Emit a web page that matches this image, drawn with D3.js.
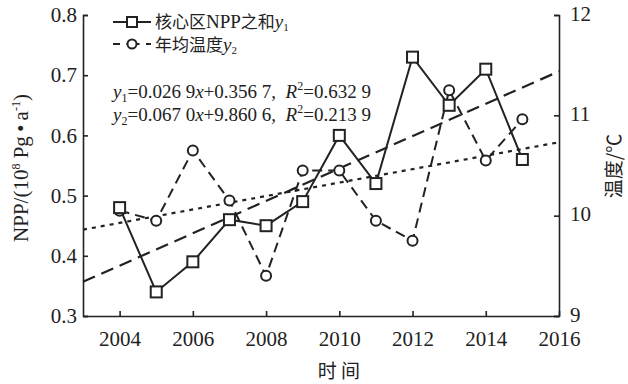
<!DOCTYPE html>
<html>
<head>
<meta charset="utf-8">
<script src="https://cdn.jsdelivr.net/npm/d3@7"></script>
<style>
  body { margin: 0; background: #fff; }
  svg { font-family: "Liberation Serif", "Times New Roman", "Noto Sans CJK SC", serif; }
</style>
</head>
<body>
<script>
// data
var years = [2004, 2005, 2006, 2007, 2008, 2009, 2010, 2011, 2012, 2013, 2014, 2015];
var npp = [0.48, 0.34, 0.39, 0.46, 0.45, 0.49, 0.60, 0.52, 0.73, 0.65, 0.71, 0.56];
var temp = [10.05, 9.95, 10.65, 10.15, 9.4, 10.45, 10.45, 9.95, 9.75, 11.25, 10.55, 10.96];
var xTicks = [2004, 2006, 2008, 2010, 2012, 2014, 2016];
var leftTicks = [0.3, 0.4, 0.5, 0.6, 0.7, 0.8];
var rightTicks = [9, 10, 11, 12];
// fitted trends, x = year - 2003
var fit1 = {k: 0.0269, b: 0.3567};
var fit2 = {k: 0.0670, b: 9.8606};

var W = 628, H = 384;
var m = {left: 83, right: 559, top: 15, bottom: 316};

var svg = d3.select("body").append("svg")
    .attr("width", W)
    .attr("height", H);

var x = d3.scaleLinear().domain([2003, 2016]).range([m.left, m.right]);
var yL = d3.scaleLinear().domain([0.3, 0.8]).range([m.bottom, m.top]);
var yR = d3.scaleLinear().domain([9, 12]).range([m.bottom, m.top]);

// axes
var gx = svg.append("g")
    .attr("transform", "translate(0," + m.bottom + ")")
    .call(d3.axisBottom(x).tickValues(xTicks).tickFormat(d3.format("d")).tickSizeInner(-5).tickSizeOuter(0).tickPadding(18));
var gl = svg.append("g")
    .attr("transform", "translate(" + m.left + ",0)")
    .call(d3.axisLeft(yL).tickValues(leftTicks).tickFormat(d3.format(".1f")).tickSizeInner(-5).tickSizeOuter(-5).tickPadding(6));
var gr = svg.append("g")
    .attr("transform", "translate(" + m.right + ",0)")
    .call(d3.axisRight(yR).tickValues(rightTicks).tickFormat(d3.format("d")).tickSizeInner(-5).tickSizeOuter(-5).tickPadding(11));

[gx, gl, gr].forEach(function(g) {
    g.selectAll("path, line").attr("stroke", "#222").attr("stroke-width", 1.6);
    g.selectAll("text").attr("font-size", 21).attr("fill", "#222")
        .attr("font-family", "Liberation Serif, serif");
});
gx.selectAll("text").attr("dy", "0.55em");
gr.selectAll("text").attr("dy", "0.25em");

// trend lines
var trendX = [2003, 2016];
svg.append("path")
    .datum(trendX)
    .attr("fill", "none").attr("stroke", "#222").attr("stroke-width", 2.2)
    .attr("stroke-dasharray", "13,7")
    .attr("d", d3.line().x(function(d) { return x(d); }).y(function(d) { return yL(fit1.k * (d - 2003) + fit1.b); }));
svg.append("path")
    .datum(trendX)
    .attr("fill", "none").attr("stroke", "#222").attr("stroke-width", 2.2)
    .attr("stroke-dasharray", "4,5")
    .attr("d", d3.line().x(function(d) { return x(d); }).y(function(d) { return yR(fit2.k * (d - 2003) + fit2.b); }));

// series lines
svg.append("path")
    .datum(years)
    .attr("fill", "none").attr("stroke", "#222").attr("stroke-width", 2)
    .attr("d", d3.line().x(function(d) { return x(d); }).y(function(d, i) { return yL(npp[i]); }));
svg.append("path")
    .datum(years)
    .attr("fill", "none").attr("stroke", "#222").attr("stroke-width", 2)
    .attr("stroke-dasharray", "10,6")
    .attr("d", d3.line().x(function(d) { return x(d); }).y(function(d, i) { return yR(temp[i]); }));

// markers
svg.selectAll(".dot")
    .data(years)
    .enter().append("circle")
    .attr("cx", function(d) { return x(d); })
    .attr("cy", function(d, i) { return yR(temp[i]); })
    .attr("r", 5)
    .attr("fill", "#fff").attr("stroke", "#222").attr("stroke-width", 2);
svg.selectAll(".sq")
    .data(years)
    .enter().append("rect")
    .attr("x", function(d) { return x(d) - 5.5; })
    .attr("y", function(d, i) { return yL(npp[i]) - 5.5; })
    .attr("width", 11).attr("height", 11)
    .attr("fill", "#fff").attr("stroke", "#222").attr("stroke-width", 2);

// legend
var lg = svg.append("g");
lg.append("line").attr("x1", 113).attr("x2", 151).attr("y1", 22).attr("y2", 22)
    .attr("stroke", "#222").attr("stroke-width", 2);
lg.append("rect").attr("x", 127).attr("y", 17).attr("width", 10).attr("height", 10)
    .attr("fill", "#fff").attr("stroke", "#222").attr("stroke-width", 2);
lg.append("line").attr("x1", 113).attr("x2", 151).attr("y1", 44).attr("y2", 44)
    .attr("stroke", "#222").attr("stroke-width", 2).attr("stroke-dasharray", "7,6.5,13,6.5,7");
lg.append("circle").attr("cx", 132).attr("cy", 44).attr("r", 4.5)
    .attr("fill", "#fff").attr("stroke", "#222").attr("stroke-width", 2);

var t1 = lg.append("text").attr("x", 155).attr("y", 28).attr("font-size", 17).attr("fill", "#222");
t1.append("tspan").attr("font-family", "Noto Sans CJK SC").text("核心区");
t1.append("tspan").attr("font-family", "Liberation Serif").attr("font-size", 19).text("NPP");
t1.append("tspan").attr("font-family", "Noto Sans CJK SC").text("之和");
t1.append("tspan").attr("font-style", "italic").attr("font-size", 19).text("y");
t1.append("tspan").attr("font-size", 11).attr("dy", 3).text("1");

var t2 = lg.append("text").attr("x", 155).attr("y", 51).attr("font-size", 17).attr("fill", "#222");
t2.append("tspan").attr("font-family", "Noto Sans CJK SC").text("年均温度");
t2.append("tspan").attr("font-style", "italic").attr("font-size", 19).text("y");
t2.append("tspan").attr("font-size", 11).attr("dy", 3).text("2");

// equations
function equation(y, sub, k, b, r2) {
    var t = svg.append("text").attr("x", 113).attr("y", y).attr("font-size", 19).attr("fill", "#222");
    t.append("tspan").attr("font-style", "italic").text("y");
    t.append("tspan").attr("font-size", 12).attr("dy", 4).text(sub);
    t.append("tspan").attr("dy", -4).text("=" + k);
    t.append("tspan").attr("font-style", "italic").text("x");
    t.append("tspan").text("+" + b + ",\u2002");
    t.append("tspan").attr("font-style", "italic").text("R");
    t.append("tspan").attr("font-size", 12).attr("dy", -8).text("2");
    t.append("tspan").attr("dy", 8).text("=" + r2);
}
equation(98, "1", "0.026 9", "0.356 7", "0.632 9");
equation(121, "2", "0.067 0", "9.860 6", "0.213 9");

// axis titles
var ly = svg.append("text")
    .attr("transform", "translate(28,168) rotate(-90)")
    .attr("text-anchor", "middle").attr("font-size", 21).attr("fill", "#222");
ly.append("tspan").text("NPP/(10");
ly.append("tspan").attr("font-size", 12).attr("dy", -8).text("8");
ly.append("tspan").attr("dy", 8).text(" Pg\u2009\u2022\u2009a");
ly.append("tspan").attr("font-size", 12).attr("dy", -8).text("-1");
ly.append("tspan").attr("dy", 8).text(")");

svg.append("text")
    .attr("transform", "translate(621,166) rotate(-90)")
    .attr("text-anchor", "middle").attr("font-size", 19).attr("fill", "#222")
    .attr("font-family", "Noto Sans CJK SC")
    .text("温度/℃");

svg.append("text")
    .attr("x", 339).attr("y", 378)
    .attr("text-anchor", "middle").attr("font-size", 19).attr("fill", "#222")
    .attr("font-family", "Noto Sans CJK SC")
    .text("时 间");
</script>
</body>
</html>
